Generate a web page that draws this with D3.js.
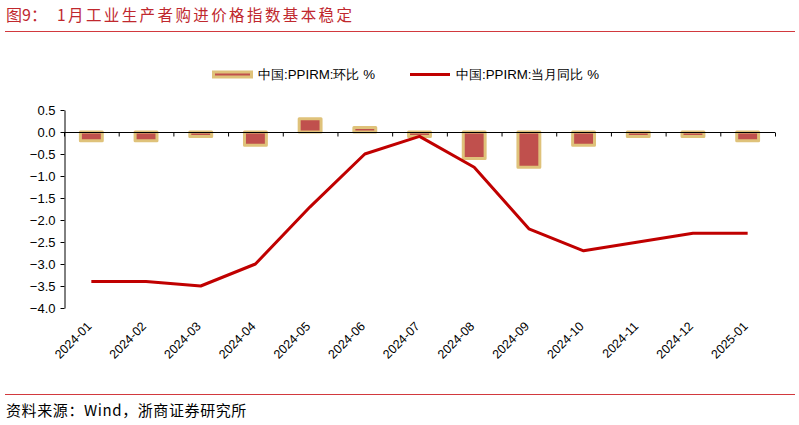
<!DOCTYPE html>
<html><head><meta charset="utf-8">
<script src="https://cdn.jsdelivr.net/npm/d3@7"></script>
<style>body{margin:0;background:#fff}svg{display:block}</style>
</head><body><svg id="c" width="799" height="425"></svg>
<script>
const categories = ["2024-01","2024-02","2024-03","2024-04","2024-05","2024-06","2024-07","2024-08","2024-09","2024-10","2024-11","2024-12","2025-01"];
const momValues = [-0.2,-0.2,-0.1,-0.3,0.3,0.1,-0.1,-0.6,-0.8,-0.3,-0.1,-0.1,-0.2];
const yoyValues = [-3.4,-3.4,-3.5,-3.0,-1.7,-0.5,-0.1,-0.8,-2.2,-2.7,-2.5,-2.3,-2.3];
const yTicks = [0.5,0.0,-0.5,-1.0,-1.5,-2.0,-2.5,-3.0,-3.5,-4.0];
const seriesNames = ["中国:PPIRM:环比 %","中国:PPIRM:当月同比 %"];
const titlePrefix = "图9：";
const titleText = "1月工业生产者购进价格指数基本稳定";
const sourceText = "资料来源：Wind，浙商证券研究所";

const svg = d3.select("#c");
const red = "#C0282E";
const cjk = "'Noto Sans CJK SC', sans-serif";
const sans = "'Liberation Sans', Arial, sans-serif";

// title
svg.append("text").attr("x",6).attr("y",21).attr("fill",red)
  .attr("font-family",cjk).attr("font-size",16).text(titlePrefix);
svg.append("text").attr("x",57).attr("y",21).attr("fill",red)
  .attr("font-family",cjk).attr("font-size",15.5).attr("letter-spacing",2.4).text(titleText);
svg.append("line").attr("x1",5).attr("x2",795).attr("y1",31.5).attr("y2",31.5)
  .attr("stroke","#D2393E").attr("stroke-width",1);
svg.append("line").attr("x1",5).attr("x2",795).attr("y1",394.5).attr("y2",394.5)
  .attr("stroke","#D2393E").attr("stroke-width",1);
svg.append("text").attr("x",6).attr("y",416).attr("fill","#000")
  .attr("font-family",cjk).attr("font-size",15).attr("letter-spacing",0.6).text(sourceText);

const xb = d3.scaleBand().domain(categories).range([64,775]);
const y = d3.scaleLinear().domain([-4,0.5]).range([308,110]);
const cx = d => xb(d) + xb.bandwidth()/2;

// y axis
const yAxis = d3.axisLeft(y).tickValues(yTicks).tickFormat(d3.format(".1f")).tickSize(4).tickSizeOuter(0);
const gy = svg.append("g").attr("transform","translate(64.5,0)").call(yAxis);
gy.selectAll("text").attr("font-family",sans).attr("font-size",13).attr("fill","#000").attr("x",-9);
gy.select(".domain").attr("stroke","#000");
gy.selectAll(".tick line").attr("stroke","#000");

// bars
const barW = xb.bandwidth()*0.4;
svg.append("g").selectAll("rect").data(momValues).join("rect")
  .attr("x",(d,i)=>cx(categories[i]) - barW/2)
  .attr("width",barW)
  .attr("y",d=>y(Math.max(0,d)))
  .attr("height",d=>Math.abs(y(d)-y(0)))
  .attr("fill","#C0504D")
  .attr("stroke","#DFC27A").attr("stroke-width",3).attr("stroke-linejoin","round");

// x axis at zero
const gx = svg.append("g").attr("transform",`translate(0,${y(0)+0.5})`);
gx.append("line").attr("x1",64).attr("x2",775).attr("stroke","#000");
gx.selectAll("line.t").data(d3.range(categories.length+1)).join("line").attr("class","t")
  .attr("x1",i=>64.5+i*xb.bandwidth()).attr("x2",i=>64.5+i*xb.bandwidth())
  .attr("y1",0).attr("y2",4).attr("stroke","#000");

// x labels
svg.append("g").selectAll("text").data(categories).join("text")
  .attr("transform",d=>`translate(${cx(d)+1},${327}) rotate(-45)`)
  .attr("text-anchor","end").attr("font-family",sans).attr("font-size",12.5).attr("fill","#000")
  .text(d=>d);

// line
const line = d3.line().x((d,i)=>cx(categories[i])).y(d=>y(d));
svg.append("path").datum(yoyValues).attr("d",line).attr("fill","none")
  .attr("stroke","#C00000").attr("stroke-width",3).attr("stroke-linejoin","round");

// legend
const lg = svg.append("g");
lg.append("rect").attr("x",213.5).attr("y",72).attr("width",38).attr("height",5)
  .attr("fill","#C0504D").attr("stroke","#DFC27A").attr("stroke-width",3);
lg.append("text").attr("x",258).attr("y",79).attr("font-family",sans).attr("font-size",13.3).text(seriesNames[0]);
lg.append("line").attr("x1",410).attr("x2",450).attr("y1",74.5).attr("y2",74.5)
  .attr("stroke","#C00000").attr("stroke-width",3);
lg.append("text").attr("x",456).attr("y",79).attr("font-family",sans).attr("font-size",13.3).text(seriesNames[1]);
</script></body></html>
